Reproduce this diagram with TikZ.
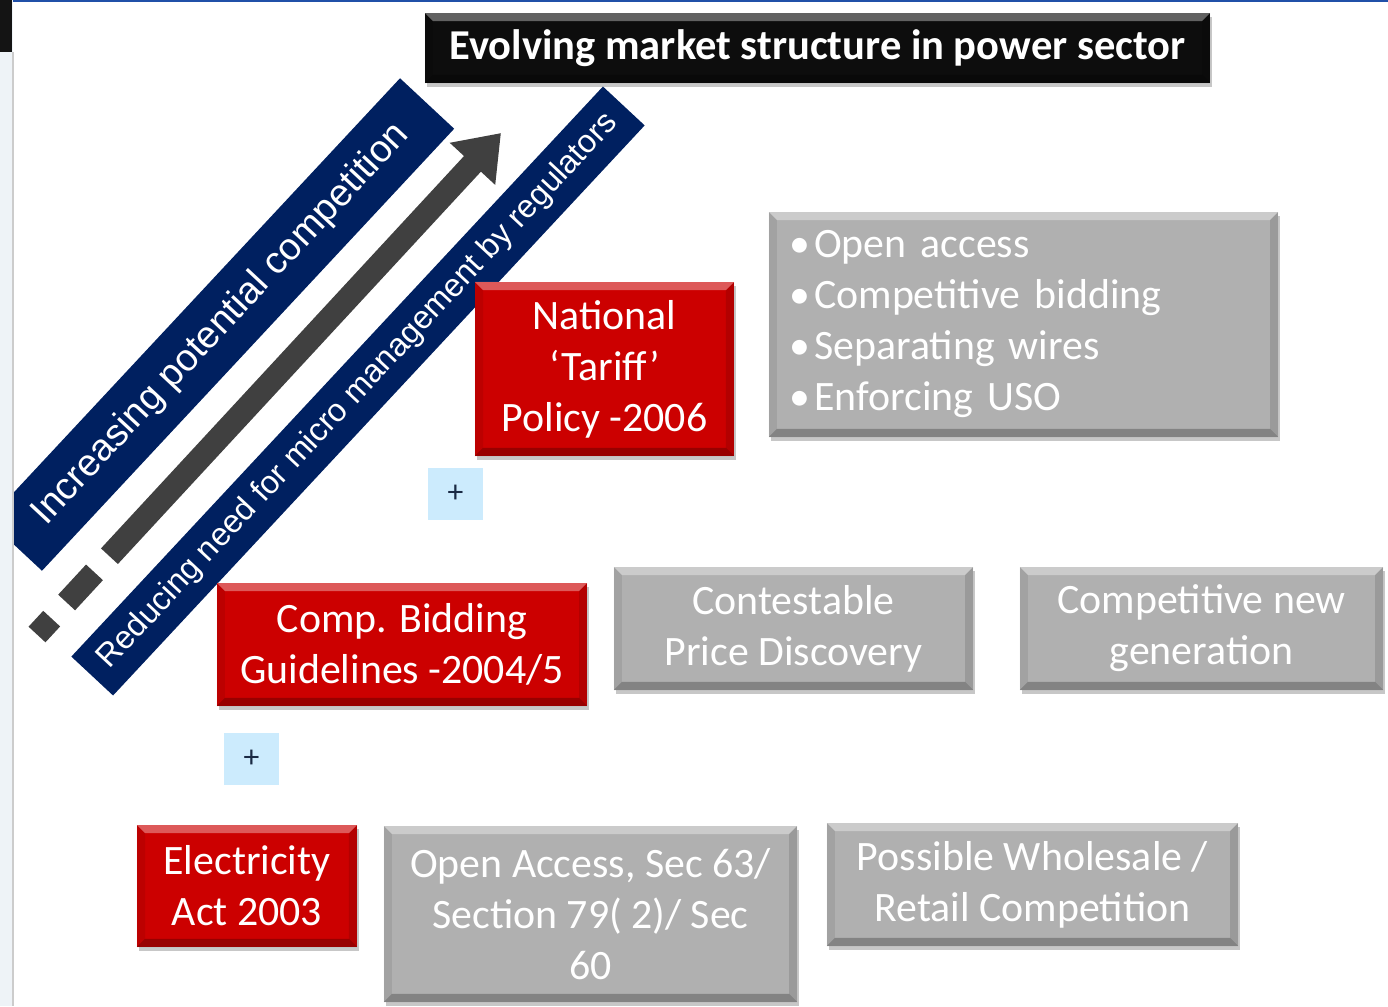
\documentclass[tikz,border=0pt]{standalone}
\usepackage{fontspec}
\setmainfont{Carlito}
\newfontfamily\bannerfont{Liberation Sans}
\usetikzlibrary{arrows.meta,shadows}
\definecolor{boxred}{HTML}{CC0000}
\definecolor{boxgray}{HTML}{B0B0B0}
\definecolor{bandnavy}{HTML}{002060}
\definecolor{arrowgray}{HTML}{404040}
\definecolor{plusblue}{HTML}{CCEBFD}
\definecolor{plusink}{HTML}{1A2A44}
\definecolor{stripgray}{HTML}{EEF3F7}
\definecolor{topblue}{HTML}{2050A8}
\newcommand\boxtext{\fontsize{11.9}{14.5}\selectfont}
\newcommand\bul{\textbullet\kern1pt}
\tikzset{
  bevel/.style={path picture={
    \fill[white,opacity=.35] (path picture bounding box.north west) -- (path picture bounding box.north east)
      -- ([shift={(-2.3pt,-2.3pt)}]path picture bounding box.north east) -- ([shift={(2.3pt,-2.3pt)}]path picture bounding box.north west) -- cycle;
    \fill[black,opacity=.25] (path picture bounding box.south west) -- (path picture bounding box.south east)
      -- ([shift={(-2.3pt,2.3pt)}]path picture bounding box.south east) -- ([shift={(2.3pt,2.3pt)}]path picture bounding box.south west) -- cycle;
    \fill[black,opacity=.12] (path picture bounding box.north east) -- (path picture bounding box.south east)
      -- ([shift={(-2.3pt,2.3pt)}]path picture bounding box.south east) -- ([shift={(-2.3pt,-2.3pt)}]path picture bounding box.north east) -- cycle;
    \fill[black,opacity=.08] (path picture bounding box.north west) -- (path picture bounding box.south west)
      -- ([shift={(2.3pt,2.3pt)}]path picture bounding box.south west) -- ([shift={(2.3pt,-2.3pt)}]path picture bounding box.north west) -- cycle;
  }}
}
\begin{document}
\begin{tikzpicture}[x=0.01cm,y=-0.01cm,
  basebox/.style={rectangle,inner sep=0pt,align=center,text=white,font=\boxtext,bevel,
    drop shadow={shadow xshift=0.02cm,shadow yshift=-0.04cm,opacity=0.22,fill=black}},
  redbox/.style={basebox,fill=boxred},
  graybox/.style={basebox,fill=boxgray},
  band/.style={rectangle,fill=bandnavy,text=white,rotate=47,inner sep=0pt},
  plusbox/.style={rectangle,fill=plusblue,text=plusink,minimum width=0.55cm,minimum height=0.52cm,
    inner sep=0pt,font=\fontsize{9}{11}\selectfont}]
\useasboundingbox (0,0) rectangle (1388,1006);

% Diagonal bands
\node[band,minimum width=6.04cm,minimum height=0.74cm,font=\bannerfont\fontsize{10.8}{13}\selectfont]
  (compband) at (221,324.5) {Increasing potential competition};
\node[band,minimum width=7.79cm,minimum height=0.57cm,font=\bannerfont\fontsize{9.2}{11}\selectfont]
  (regband) at (358,391) {Reducing need for micro management by regulators};

% Big arrow
\coordinate (arrtail) at (37,634.5);
\coordinate (arrtip) at (501,133);
\draw[arrowgray,line width=0.23cm,dash pattern=on 0.216cm off 0.22cm on 0.41cm off 0.22cm on 20cm,
  -{Triangle[length=0.42cm,width=0.59cm]}] (arrtail) -- (arrtip);

% Title
\node[basebox,fill=black!95,minimum width=7.85cm,minimum height=0.70cm,font=\bfseries\fontsize{12.1}{14.5}\selectfont]
  (title) at (817.5,48) {Evolving market structure in power sector};

% Top row
\node[redbox,minimum width=2.59cm,minimum height=1.74cm] (natpolicy) at (604.5,369)
  {National\\‘Tariff’\\Policy -2006};
\node[graybox,text width=4.67cm,inner xsep=0.21cm,minimum height=2.25cm,align=left] (features) at (1023.5,324.5)
  {\bul Open access\\\bul Competitive bidding\\\bul Separating wires\\\bul Enforcing USO};
\node[plusbox] (plusA) at (455.5,494) {+};

% Middle row
\node[redbox,minimum width=3.70cm,minimum height=1.23cm] (compbid) at (402,644.5)
  {Comp. Bidding\\Guidelines -2004/5};
\node[graybox,minimum width=3.59cm,minimum height=1.23cm] (pricedisc) at (793.5,628.5)
  {Contestable\\Price Discovery};
\node[graybox,minimum width=3.63cm,minimum height=1.23cm] (newgen) at (1201.5,628.5)
  {Competitive new\\generation};
\node[plusbox] (plusB) at (251.5,759) {+};

% Bottom row
\node[redbox,minimum width=2.20cm,minimum height=1.22cm] (elecact) at (247,886)
  {Electricity\\Act 2003};
\node[graybox,minimum width=4.13cm,minimum height=1.76cm] (openaccess) at (590.5,914)
  {Open Access, Sec 63/\\Section 79( 2)/ Sec\\60};
\node[graybox,minimum width=4.11cm,minimum height=1.23cm] (retail) at (1032.5,884.5)
  {Possible Wholesale /\\Retail Competition};

% Window edges
\fill[stripgray] (0,0) rectangle (13,1006);
\draw[black!20,line width=0.02cm] (13,52) -- (13,1006);
\fill[black!92] (0,0) rectangle (12,52);
\fill[topblue] (13,0) rectangle (1388,2);
\end{tikzpicture}
\end{document}
